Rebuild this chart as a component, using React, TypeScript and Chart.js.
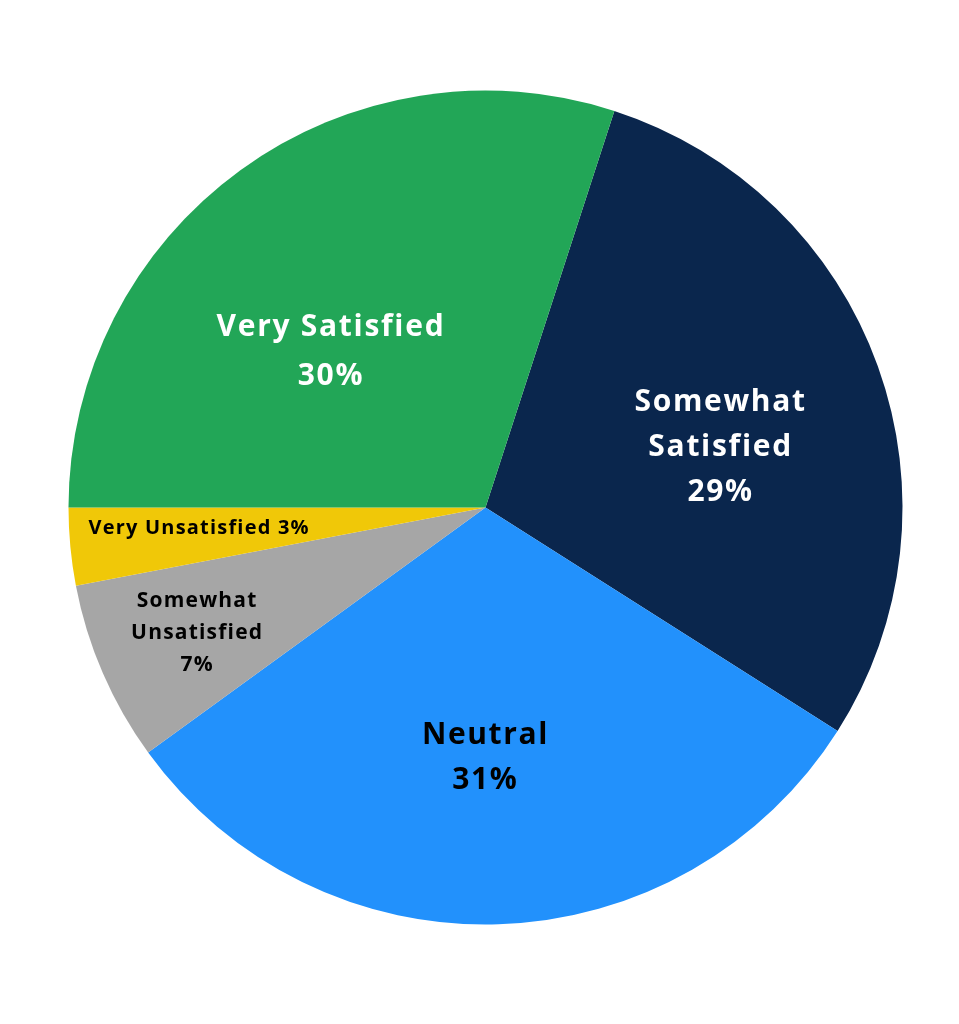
import React, { useEffect, useRef } from "react";
import { Chart, registerables } from "chart.js";

Chart.register(...registerables);

const categories = ["Somewhat Satisfied", "Neutral", "Somewhat Unsatisfied", "Very Unsatisfied", "Very Satisfied"];
const values = [29, 31, 7, 3, 30];
const colors = ["#0A264D", "#2291FC", "#A6A6A6", "#F0C808", "#22A657"];
const labelLines = [
  ["Somewhat", "Satisfied", "29%"],
  ["Neutral", "31%"],
  ["Somewhat", "Unsatisfied", "7%"],
  ["Very Unsatisfied 3%"],
  ["Very Satisfied", "30%"],
];
const labelColors = ["#FFFFFF", "#000000", "#000000", "#000000", "#FFFFFF"];
const labelFontSizes = [30, 30, 21, 20, 30];
const labelLetterSpacing = [1.7, 1.6, 1.2, 1.2, 1.7];
const labelLineHeights = [45, 45, 32, 32, 49];
const labelRadiusFrac = [0.58, 0.6, 0.755, 0.69, 0.527];
const labelAngleOffsetDeg = [5.4, 2, 0, 1.2, -9];

const labelPlugin = {
  id: "sliceLabels",
  afterDatasetsDraw(chart: any) {
    const ctx = chart.ctx;
    const meta = chart.getDatasetMeta(0);
    meta.data.forEach((arc: any, i: number) => {
      const { x, y, startAngle, endAngle, outerRadius } = arc.getProps(
        ["x", "y", "startAngle", "endAngle", "outerRadius"],
        true
      );
      const mid = (startAngle + endAngle) / 2 + (labelAngleOffsetDeg[i] * Math.PI) / 180;
      const r = outerRadius * labelRadiusFrac[i];
      const cx = x + Math.cos(mid) * r;
      const cy = y + Math.sin(mid) * r;
      const lines = labelLines[i];
      const lh = labelLineHeights[i];
      ctx.save();
      ctx.fillStyle = labelColors[i];
      ctx.font = `bold ${labelFontSizes[i]}px "Open Sans", sans-serif`;
      (ctx as any).letterSpacing = `${labelLetterSpacing[i]}px`;
      ctx.textAlign = "center";
      ctx.textBaseline = "middle";
      lines.forEach((line, j) => {
        const ly = cy + (j - (lines.length - 1) / 2) * lh;
        ctx.fillText(line, cx + labelLetterSpacing[i] / 2, ly);
      });
      ctx.restore();
    });
  },
};

export default function App() {
  const ref = useRef<HTMLCanvasElement>(null);
  useEffect(() => {
    if (!ref.current) return;
    const chart = new Chart(ref.current, {
      type: "pie",
      data: {
        labels: categories,
        datasets: [
          {
            data: values,
            backgroundColor: colors,
            borderWidth: 0,
          },
        ],
      },
      options: {
        responsive: false,
        animation: false,
        rotation: 18,
        layout: { padding: { left: 68.5, right: 56.5, top: 90.5, bottom: 99.5 } },
        plugins: {
          legend: { display: false },
          tooltip: { enabled: false },
        },
      },
      plugins: [labelPlugin],
    });
    return () => chart.destroy();
  }, []);
  return (
    <div style={{ position: "absolute", left: 0, top: 0, width: 959, height: 1024, background: "#fff" }}>
      <canvas ref={ref} width={959} height={1024} style={{ width: 959, height: 1024 }} />
    </div>
  );
}
